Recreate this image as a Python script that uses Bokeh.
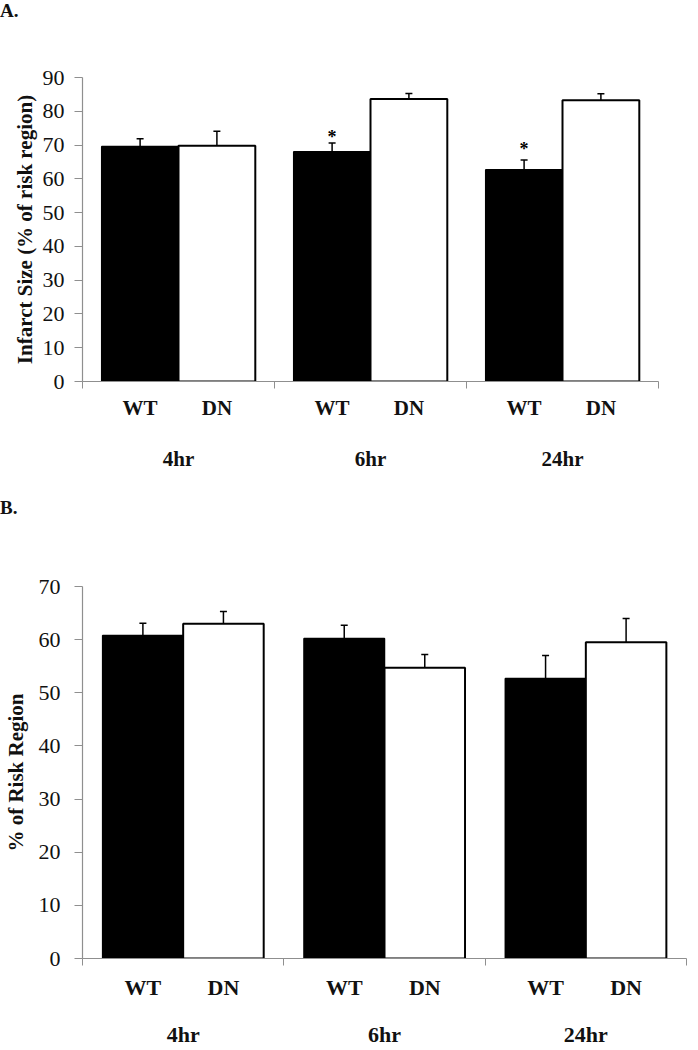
from bokeh.plotting import figure
from bokeh.models import (ColumnDataSource, FixedTicker, LinearAxis, Range1d,
                          Whisker, TeeHead, Div)
from bokeh.layouts import column
from bokeh.embed import file_html
from bokeh.resources import INLINE
from bokeh.core.properties import value

# ---------------- data ----------------
groups = ["4hr", "6hr", "24hr"]
genotypes = ["WT", "DN"]

a_wt = [69.6, 68.0, 62.7]
a_wt_err = [2.3, 2.6, 2.9]
a_dn = [69.8, 83.6, 83.3]
a_dn_err = [4.3, 1.7, 1.9]
a_star_text = ["*", "*"]
a_star_group = [1, 2]
a_star_y = [72.5, 68.8]

b_wt = [60.8, 60.2, 52.7]
b_wt_err = [2.3, 2.5, 4.3]
b_dn = [63.0, 54.7, 59.5]
b_dn_err = [2.3, 2.5, 4.5]

a_yticks = [0, 10, 20, 30, 40, 50, 60, 70, 80, 90]
b_yticks = [0, 10, 20, 30, 40, 50, 60, 70]

FONT = "Liberation Serif"
GRAY = "#8f8f8f"
INK = "#111111"


def make_panel(ylabel, wt, wt_err, dn, dn_err, ymax, yticks, geom,
               ylab_standoff, ytick_standoff, xlab_standoff, grp_standoff,
               label_size):
    fw, fh, bl, br, bt, bb = geom
    p = figure(frame_width=fw, frame_height=fh,
               min_border_left=bl, min_border_right=br,
               min_border_top=bt, min_border_bottom=bb,
               x_range=Range1d(0, len(groups)), y_range=Range1d(0, ymax),
               x_axis_type=None, y_axis_type=None,
               output_backend="svg", toolbar_location=None)
    p.outline_line_color = None
    p.xgrid.visible = False
    p.ygrid.visible = False
    p.background_fill_color = "white"
    p.border_fill_color = "white"

    n = len(groups)
    wt_x = [i + 0.3 for i in range(n)]
    dn_x = [i + 0.7 for i in range(n)]

    p.vbar(x=wt_x, top=wt, width=0.4, bottom=0, fill_color="black",
           line_color="black", line_width=1.5)
    p.vbar(x=dn_x, top=dn, width=0.4, bottom=0, fill_color="white",
           line_color="black", line_width=2)

    src = ColumnDataSource(dict(
        x=wt_x + dn_x,
        upper=[v + e for v, e in zip(wt, wt_err)] + [v + e for v, e in zip(dn, dn_err)],
        lower=[v - e for v, e in zip(wt, wt_err)] + [v - e for v, e in zip(dn, dn_err)],
    ))
    w = Whisker(base="x", upper="upper", lower="lower", source=src,
                line_color="black", line_width=1.5,
                upper_head=TeeHead(size=7, line_width=1.5, line_color="black"),
                lower_head=TeeHead(size=7, line_width=1.5, line_color="black"))
    p.add_layout(w)

    # y axis
    ya = LinearAxis(ticker=FixedTicker(ticks=yticks, minor_ticks=[]),
                    axis_label=ylabel)
    ya.axis_line_color = GRAY
    ya.axis_line_width = 1.2
    ya.major_tick_line_color = GRAY
    ya.major_tick_out = 8
    ya.major_tick_in = 0
    ya.minor_tick_out = 0
    ya.minor_tick_in = 0
    ya.major_label_text_font = FONT
    ya.major_label_text_font_size = "22px"
    ya.major_label_text_color = INK
    ya.major_label_standoff = ytick_standoff
    ya.axis_label_text_font = FONT
    ya.axis_label_text_font_style = "bold"
    ya.axis_label_text_font_size = "21px"
    ya.axis_label_text_color = INK
    ya.axis_label_standoff = ylab_standoff
    p.add_layout(ya, "left")

    # x axis: genotype labels, ticks at group boundaries
    bar_ticks = []
    overrides = {}
    for i in range(n):
        for xx, g in zip((wt_x[i], dn_x[i]), genotypes):
            bar_ticks.append(xx)
            overrides[xx] = g
    xa = LinearAxis(ticker=FixedTicker(ticks=bar_ticks,
                                       minor_ticks=list(range(n + 1))))
    xa.major_label_overrides = overrides
    xa.axis_line_color = GRAY
    xa.axis_line_width = 1.2
    xa.major_tick_line_color = None
    xa.major_tick_out = 0
    xa.major_tick_in = 0
    xa.minor_tick_line_color = GRAY
    xa.minor_tick_out = 7
    xa.minor_tick_in = 0
    xa.major_label_text_font = FONT
    xa.major_label_text_font_style = "bold"
    xa.major_label_text_font_size = label_size
    xa.major_label_text_color = INK
    xa.major_label_standoff = xlab_standoff
    p.add_layout(xa, "below")

    # group labels
    grp_ticks = [i + 0.5 for i in range(n)]
    ga = LinearAxis(ticker=FixedTicker(ticks=grp_ticks, minor_ticks=[]))
    ga.major_label_overrides = {t: g for t, g in zip(grp_ticks, groups)}
    ga.axis_line_color = None
    ga.major_tick_line_color = None
    ga.major_tick_out = 0
    ga.major_tick_in = 0
    ga.minor_tick_out = 0
    ga.minor_tick_in = 0
    ga.major_label_text_font = FONT
    ga.major_label_text_font_style = "bold"
    ga.major_label_text_font_size = label_size
    ga.major_label_text_color = INK
    ga.major_label_standoff = grp_standoff
    p.add_layout(ga, "below")
    return p, wt_x


def letter_div(txt, h, lh):
    return Div(text=txt, width=682, height=h, margin=(0, 0, 0, 0),
               styles={"font-family": FONT, "font-weight": "bold",
                       "font-size": "19px", "line-height": f"{lh}px",
                       "color": INK})


divA = letter_div("A.", 24, 22)
pa, a_wt_x = make_panel("Infarct Size (% of risk region)",
                        a_wt, a_wt_err, a_dn, a_dn_err, 90, a_yticks,
                        (576, 304, 69, 37, 53, 111),
                        3, 10, 7, 24, "21px")
pa.text(x=[a_wt_x[g] for g in a_star_group], y=a_star_y, text=a_star_text,
        text_font=value(FONT), text_font_style="bold", text_font_size="18px",
        text_align="center", text_baseline="alphabetic", text_color="black")

divB = letter_div("B.", 32, 32)
pb, _ = make_panel("% of Risk Region",
                   b_wt, b_wt_err, b_dn, b_dn_err, 70, b_yticks,
                   (604, 372, 77, 1, 62, 76),
                   8, 14, 9, 19, "22px")

layout = column(divA, pa, divB, pb, spacing=0)
open("out.html", "w").write(file_html(layout, INLINE))
